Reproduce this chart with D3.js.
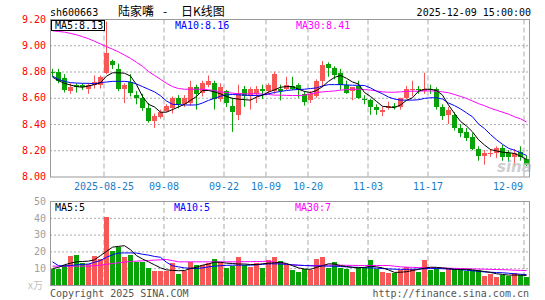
<!DOCTYPE html>
<html>
<head>
<meta charset="utf-8">
<script src="https://cdn.jsdelivr.net/npm/d3@7"></script>
<style>
  html, body { margin: 0; padding: 0; background: #fff; }
  svg { display: block; }
  text { font-family: "DejaVu Sans Mono", monospace; font-size: 10px; }
</style>
</head>
<body>
<svg id="chart" width="545" height="300"></svg>
<script>
// trading days shown on the chart
const dates = [
  "2025-08-12","2025-08-13","2025-08-14","2025-08-15","2025-08-18","2025-08-19","2025-08-20","2025-08-21","2025-08-22",
  "2025-08-25","2025-08-26","2025-08-27","2025-08-28","2025-08-29",
  "2025-09-01","2025-09-02","2025-09-03","2025-09-04","2025-09-05",
  "2025-09-08","2025-09-09","2025-09-10","2025-09-11","2025-09-12",
  "2025-09-15","2025-09-16","2025-09-17","2025-09-18","2025-09-19",
  "2025-09-22","2025-09-23","2025-09-24","2025-09-25","2025-09-26","2025-09-29","2025-09-30",
  "2025-10-09","2025-10-10","2025-10-13","2025-10-14","2025-10-15","2025-10-16","2025-10-17",
  "2025-10-20","2025-10-21","2025-10-22","2025-10-23","2025-10-24",
  "2025-10-27","2025-10-28","2025-10-29","2025-10-30","2025-10-31",
  "2025-11-03","2025-11-04","2025-11-05","2025-11-06","2025-11-07",
  "2025-11-10","2025-11-11","2025-11-12","2025-11-13","2025-11-14",
  "2025-11-17","2025-11-18","2025-11-19","2025-11-20","2025-11-21",
  "2025-11-24","2025-11-25","2025-11-26","2025-11-27","2025-11-28",
  "2025-12-01","2025-12-02","2025-12-03","2025-12-04","2025-12-05","2025-12-08","2025-12-09"
];

const open = [
  8.80,8.80,8.75,8.65,8.70,8.70,8.67,8.70,8.70,
  8.79,8.88,8.82,8.67,8.72,
  8.62,8.60,8.52,8.42,8.45,
  8.50,8.52,8.60,8.55,8.56,
  8.68,8.64,8.70,8.71,8.59,
  8.65,8.54,8.47,8.67,8.62,8.63,8.67,
  8.65,8.65,8.67,8.67,8.69,8.70,8.63,
  8.58,8.61,8.73,8.86,8.83,
  8.79,8.70,8.65,8.69,8.59,
  8.58,8.53,8.49,8.52,8.54,
  8.53,8.60,8.67,8.67,8.65,
  8.67,8.67,8.53,8.47,8.47,
  8.37,8.34,8.30,8.21,8.16,
  8.18,8.18,8.22,8.18,8.15,8.19,8.13
];
const high = [
  8.82,8.82,8.78,8.71,8.71,8.71,8.71,8.77,8.77,
  9.18,8.89,8.86,8.71,8.78,
  8.65,8.63,8.56,8.48,8.51,
  8.55,8.61,8.62,8.62,8.73,
  8.70,8.73,8.77,8.73,8.71,
  8.66,8.60,8.70,8.69,8.68,8.69,8.70,
  8.71,8.80,8.70,8.76,8.76,8.71,8.65,
  8.65,8.74,8.88,8.87,8.84,
  8.82,8.73,8.68,8.73,8.62,
  8.59,8.55,8.53,8.57,8.56,
  8.60,8.69,8.73,8.69,8.79,
  8.70,8.68,8.55,8.53,8.49,
  8.40,8.37,8.33,8.23,8.20,
  8.21,8.23,8.24,8.20,8.21,8.23,8.16
];
const low = [
  8.76,8.71,8.64,8.63,8.64,8.66,8.63,8.67,8.67,
  8.78,8.82,8.65,8.56,8.61,
  8.55,8.50,8.41,8.37,8.44,
  8.49,8.48,8.52,8.53,8.54,
  8.51,8.61,8.68,8.51,8.57,
  8.53,8.34,8.43,8.53,8.51,8.56,8.59,
  8.63,8.63,8.58,8.66,8.66,8.60,8.54,
  8.56,8.60,8.68,8.76,8.74,
  8.66,8.63,8.58,8.59,8.55,
  8.47,8.47,8.46,8.51,8.51,
  8.51,8.59,8.61,8.63,8.63,
  8.63,8.51,8.43,8.40,8.35,
  8.30,8.27,8.20,8.12,8.09,
  8.15,8.14,8.12,8.11,8.08,8.12,8.08
];
const close = [
  8.79,8.73,8.66,8.68,8.68,8.68,8.70,8.72,8.76,
  8.94,8.85,8.67,8.70,8.64,
  8.60,8.52,8.42,8.46,8.49,
  8.54,8.60,8.55,8.60,8.68,
  8.63,8.71,8.73,8.59,8.68,
  8.56,8.49,8.64,8.61,8.67,8.67,8.65,
  8.70,8.78,8.65,8.70,8.67,8.67,8.57,
  8.63,8.73,8.85,8.83,8.77,
  8.70,8.64,8.68,8.60,8.58,
  8.53,8.51,8.51,8.54,8.53,
  8.60,8.67,8.67,8.66,8.67,
  8.66,8.53,8.46,8.51,8.37,
  8.33,8.29,8.21,8.16,8.18,
  8.18,8.22,8.15,8.15,8.18,8.15,8.09
];

// moving averages of the close, as drawn
const ma5 = [
  8.757,8.73,8.71,8.697,8.685,8.68,8.69,8.70,8.715,
  8.765,8.79,8.79,8.787,8.765,
  8.70,8.61,8.55,8.53,8.49,
  8.49,8.51,8.53,8.55,8.58,
  8.61,8.655,8.655,8.645,8.63,
  8.61,8.595,8.59,8.585,8.582,8.605,8.62,
  8.643,8.66,8.68,8.685,8.685,8.665,8.648,
  8.64,8.655,8.685,8.725,8.755,
  8.77,8.748,8.72,8.705,8.64,
  8.61,8.572,8.535,8.53,8.525,
  8.545,8.58,8.60,8.65,8.665,
  8.665,8.655,8.62,8.545,8.48,
  8.42,8.385,8.34,8.28,8.24,
  8.205,8.195,8.185,8.182,8.175,8.155,8.13
];
const ma10 = [
  8.765,8.74,8.725,8.715,8.712,8.71,8.71,8.707,8.715,
  8.72,8.725,8.725,8.725,8.72,
  8.705,8.685,8.665,8.645,8.615,
  8.575,8.55,8.548,8.545,8.545,
  8.545,8.56,8.58,8.595,8.612,
  8.622,8.625,8.622,8.62,8.617,8.617,8.62,
  8.63,8.64,8.648,8.655,8.66,8.663,8.665,
  8.67,8.675,8.69,8.70,8.70,
  8.70,8.698,8.695,8.695,8.693,
  8.675,8.65,8.63,8.605,8.59,
  8.582,8.582,8.582,8.585,8.595,
  8.60,8.60,8.59,8.56,8.54,
  8.515,8.485,8.455,8.40,8.365,
  8.32,8.28,8.245,8.215,8.20,8.182,8.16
];
const ma30 = [
  9.11,9.105,9.10,9.09,9.08,9.065,9.05,9.03,9.01,
  8.99,8.97,8.95,8.925,8.90,
  8.87,8.84,8.80,8.77,8.74,
  8.71,8.685,8.67,8.665,8.665,
  8.665,8.665,8.66,8.655,8.645,
  8.64,8.635,8.63,8.63,8.63,8.63,8.628,
  8.625,8.62,8.62,8.618,8.617,8.617,8.62,
  8.63,8.638,8.645,8.648,8.652,
  8.658,8.662,8.665,8.665,8.662,
  8.658,8.652,8.645,8.642,8.642,
  8.645,8.648,8.65,8.65,8.652,
  8.652,8.65,8.645,8.638,8.625,
  8.61,8.595,8.575,8.555,8.54,
  8.52,8.505,8.49,8.475,8.455,8.44,8.415
];

// volume, 万手
const volume = [
  9.8,9.8,12.2,17.1,18.1,13.2,12.6,17.1,15.7,
  40.7,20.0,22.4,16.5,18.1,
  13.6,13.6,10.2,8.3,8.3,
  8.3,12.8,6.3,8.3,13.8,
  12.2,12.2,13.2,15.2,13.8,
  10.2,11.6,16.5,11.8,10.6,12.8,10.2,
  14.6,16.5,14.2,12.6,8.7,7.7,9.3,
  8.7,15.2,16.5,10.2,13.6,
  10.2,9.3,7.7,10.2,10.2,
  14.6,9.3,7.7,6.9,6.9,
  8.7,10.6,9.8,7.9,14.6,
  8.7,10.2,7.9,9.3,9.3,
  9.3,8.3,8.7,8.7,5.3,
  6.3,4.7,6.0,5.5,7.0,6.2,5.0
];
const volMa5 = [
  9.8,10.5,12.0,13.0,13.8,14.0,14.2,15.0,17.5,
  20.0,22.5,23.0,23.4,21.0,
  17.5,15.5,13.8,12.0,10.2,
  9.0,8.7,8.5,8.6,9.8,
  10.5,11.8,12.5,13.6,13.5,
  13.0,12.8,12.5,12.5,12.2,12.2,12.6,
  13.0,13.2,13.5,12.8,11.5,10.2,9.5,
  9.3,10.5,11.5,12.6,12.5,
  11.5,11.0,10.5,10.2,10.5,
  11.2,10.8,10.2,9.0,7.5,
  7.6,7.9,8.6,9.3,10.0,
  10.6,10.5,10.2,9.8,9.3,
  9.3,9.3,9.0,8.5,8.0,
  7.5,6.7,6.3,5.9,5.9,5.9,5.7
];
const volMa10 = [
  13.8,11.5,11.3,11.6,12.0,12.2,12.5,13.5,14.6,
  16.5,18.0,19.0,19.1,19.1,
  19.0,18.3,17.8,17.0,16.5,
  13.5,11.5,10.8,10.2,10.0,
  9.8,10.2,10.8,11.2,11.5,
  11.7,11.8,11.8,11.8,11.8,12.0,12.3,
  12.6,12.6,12.5,12.3,12.0,11.8,11.6,
  11.4,11.3,11.3,11.2,11.2,
  11.0,10.8,10.6,10.5,10.3,
  10.2,10.0,9.8,9.6,9.4,
  9.3,9.3,9.4,9.5,9.7,
  9.8,9.8,9.7,9.5,9.3,
  9.1,8.8,8.5,8.1,7.8,
  7.6,7.4,7.3,7.0,6.7,6.4,6.2
];
const volMa30 = [
  11.2,11.2,11.2,11.2,11.2,11.2,11.2,11.5,11.8,
  12.3,12.8,13.2,13.6,14.0,
  14.2,14.4,14.6,14.8,15.0,
  15.2,14.5,13.8,13.8,13.8,
  13.8,13.8,13.8,13.8,13.8,
  13.8,13.8,13.8,13.9,13.9,14.0,14.0,
  14.2,13.6,13.0,12.4,12.0,11.7,11.6,
  11.6,11.6,11.7,11.8,11.8,
  11.8,11.7,11.7,11.6,11.6,
  11.6,11.6,11.6,11.6,11.2,
  10.8,10.6,10.5,10.4,10.3,
  10.2,10.2,10.1,10.0,9.9,
  9.8,9.7,9.6,9.5,9.4,
  9.3,9.2,9.1,9.0,8.8,8.7,8.6
];

const priceTicks = [8.00, 8.20, 8.40, 8.60, 8.80, 9.00, 9.20];
const volTicks = [10, 20, 30, 40, 50];
const dateTicks = ["2025-08-25","2025-09-08","2025-09-22","2025-10-09","2025-10-20","2025-11-03","2025-11-17","2025-12-09"];
const dateTickLabels = ["2025-08-25","09-08","09-22","10-09","10-20","11-03","11-17","12-09"];

const RED = "#f85757", GREEN = "#07a307", GRID = "#aaaaaa";

const svg = d3.select("#chart");
const left = 50, right = 529;
const priceTop = 19, priceBottom = 176.5;
const volTop = 201, volBottom = 285;

const x = d3.scaleBand().domain(dates).range([49, 529]);
const y = d3.scaleLinear().domain([8.0, 9.2]).range([priceBottom, priceTop]);
const yv = d3.scaleLinear().domain([0, 50]).range([volBottom, volTop]);

svg.append("rect").attr("width", 545).attr("height", 300).attr("fill", "#fff");

// header
svg.append("text").attr("x", 50).attr("y", 15.5).attr("fill", "#000").text("sh600663");
const title = svg.append("text").attr("y", 15.5).attr("fill", "#000")
  .style("font-family", "'Noto Sans CJK SC', sans-serif").style("font-size", "12px");
title.append("tspan").attr("x", 118).text("陆家嘴");
title.append("tspan").attr("x", 163).text("-");
title.append("tspan").attr("x", 181).text("日K线图");
svg.append("text").attr("x", 531).attr("y", 15.5).attr("text-anchor", "end").attr("fill", "#000")
  .text("2025-12-09 15:00:00");

// ----- grids -----
function drawGrid(g, yScale, ticks, top, bottom) {
  g.append("g")
    .attr("transform", "translate(" + left + ",0)")
    .call(d3.axisLeft(yScale).tickValues(ticks).tickSize(-(right - left)).tickFormat(""))
    .call(s => s.select(".domain").remove())
    .selectAll("line").attr("stroke", GRID).attr("stroke-dasharray", "2,2");
  g.append("g")
    .attr("transform", "translate(-2," + bottom + ")")
    .call(d3.axisBottom(x).tickValues(dateTicks).tickSize(-(bottom - top)).tickFormat(""))
    .call(s => s.select(".domain").remove())
    .selectAll("line").attr("stroke", GRID).attr("stroke-dasharray", "5,3");
}

const pricePanel = svg.append("g");
drawGrid(pricePanel, y, priceTicks.slice(1, -1), priceTop, priceBottom);
const volPanel = svg.append("g");
drawGrid(volPanel, yv, volTicks.slice(0, -1), volTop, volBottom);

svg.append("defs").call(d => {
  d.append("clipPath").attr("id", "clipP").append("rect")
    .attr("x", left).attr("y", priceTop).attr("width", right - left).attr("height", priceBottom - priceTop);
  d.append("clipPath").attr("id", "clipV").append("rect")
    .attr("x", left).attr("y", volTop).attr("width", right - left).attr("height", volBottom - volTop);
});

// ----- candles -----
const candles = pricePanel.append("g").attr("clip-path", "url(#clipP)");
const up = i => close[i] >= open[i];
candles.selectAll(".wick").data(dates).join("line")
  .attr("x1", d => x(d) + 3.5).attr("x2", d => x(d) + 3.5)
  .attr("y1", (d, i) => y(high[i])).attr("y2", (d, i) => y(low[i]))
  .attr("stroke", (d, i) => up(i) ? RED : GREEN);
candles.selectAll(".body").data(dates).join("rect")
  .attr("shape-rendering", "crispEdges")
  .attr("x", d => x(d) + 1).attr("width", 5)
  .attr("y", (d, i) => y(Math.max(open[i], close[i])))
  .attr("height", (d, i) => Math.max(1, Math.abs(y(open[i]) - y(close[i]))))
  .attr("fill", (d, i) => up(i) ? RED : GREEN);

// watermark
svg.append("text").attr("x", 497).attr("y", 172)
  .style("font-family", "'DejaVu Sans', sans-serif").style("font-size", "15px")
  .style("font-style", "italic").style("font-weight", "bold")
  .attr("fill", "#c4c4c4").attr("opacity", 0.8).text("sina");

// ----- moving-average lines -----
function maLine(g, values, scale, color) {
  g.append("path")
    .datum(values)
    .attr("fill", "none")
    .attr("stroke", color)
    .attr("stroke-width", 1)
    .attr("d", d3.line().x((d, i) => x(dates[i]) + 3.5).y(d => scale(d)));
}
maLine(candles, ma30, y, "#ff00ff");
maLine(candles, ma10, y, "#0000ff");
maLine(candles, ma5, y, "#000000");

// ----- volume -----
const vol = volPanel.append("g").attr("clip-path", "url(#clipV)");
vol.selectAll("rect").data(dates).join("rect")
  .attr("shape-rendering", "crispEdges")
  .attr("x", d => x(d) + 1).attr("width", 5)
  .attr("y", (d, i) => yv(volume[i]))
  .attr("height", (d, i) => yv(0) - yv(volume[i]))
  .attr("fill", (d, i) => up(i) ? RED : GREEN);
maLine(vol, volMa30, yv, "#ff00ff");
maLine(vol, volMa10, yv, "#0000ff");
maLine(vol, volMa5, yv, "#000000");

// frames
svg.append("rect").attr("x", left + 0.5).attr("y", priceTop + 0.5)
  .attr("width", right - left).attr("height", priceBottom - priceTop)
  .attr("fill", "none").attr("stroke", "#999");
svg.append("rect").attr("x", left + 0.5).attr("y", volTop + 0.5)
  .attr("width", right - left).attr("height", volBottom - volTop)
  .attr("fill", "none").attr("stroke", "#999");

// ----- axes labels -----
svg.append("g")
  .attr("transform", "translate(" + left + ",0)")
  .call(d3.axisLeft(y).tickValues(priceTicks).tickFormat(d3.format(".2f")).tickSize(0).tickPadding(4))
  .call(g => g.select(".domain").remove())
  .selectAll("text").attr("fill", "#ff0000").style("font-family", "'DejaVu Sans Mono', monospace").style("font-size", "10px");

svg.append("g")
  .attr("transform", "translate(" + left + ",0)")
  .call(d3.axisLeft(yv).tickValues(volTicks).tickSize(0).tickPadding(4))
  .call(g => g.select(".domain").remove())
  .selectAll("text").attr("fill", "#a0a0a0").style("font-family", "'DejaVu Sans Mono', monospace").style("font-size", "10px");

const dateAxis = svg.append("g")
  .attr("transform", "translate(-2," + priceBottom + ")")
  .call(d3.axisBottom(x).tickValues(dateTicks).tickSize(0).tickPadding(6)
    .tickFormat(d => dateTickLabels[dateTicks.indexOf(d)]))
  .call(g => g.select(".domain").remove());
dateAxis.selectAll("text").attr("fill", "#1b7dc7")
  .style("font-family", "'DejaVu Sans Mono', monospace").style("font-size", "10px");
// the last label is pulled inside the frame
dateAxis.selectAll(".tick").filter(d => d === dates[dates.length - 1])
  .select("text").attr("text-anchor", "end").attr("dx", "-1");

svg.append("text").attr("x", 28).attr("y", 289).attr("fill", "#c0c0c0")
  .style("font-family", "'Noto Sans CJK SC', sans-serif").style("font-size", "10px").text("x万");

// ----- MA legends -----
svg.append("rect").attr("x", 51.5).attr("y", 20.5).attr("width", 53).attr("height", 10)
  .attr("fill", "#fff").attr("stroke", "#000");
svg.append("text").attr("x", 55).attr("y", 28.8).attr("fill", "#000").text("MA5:8.13");
svg.append("text").attr("x", 175).attr("y", 28.8).attr("fill", "#0000ff").text("MA10:8.16");
svg.append("text").attr("x", 296).attr("y", 28.8).attr("fill", "#ff00ff").text("MA30:8.41");

svg.append("text").attr("x", 55).attr("y", 210.5).attr("fill", "#000").text("MA5:5");
svg.append("text").attr("x", 174).attr("y", 210.5).attr("fill", "#0000ff").text("MA10:5");
svg.append("text").attr("x", 295).attr("y", 210.5).attr("fill", "#ff00ff").text("MA30:7");

// footer
svg.append("text").attr("x", 50).attr("y", 297).attr("fill", "#555").text("Copyright 2025 SINA.COM");
svg.append("text").attr("x", 529).attr("y", 297).attr("text-anchor", "end").attr("fill", "#555")
  .text("http://finance.sina.com.cn");
</script>
</body>
</html>
